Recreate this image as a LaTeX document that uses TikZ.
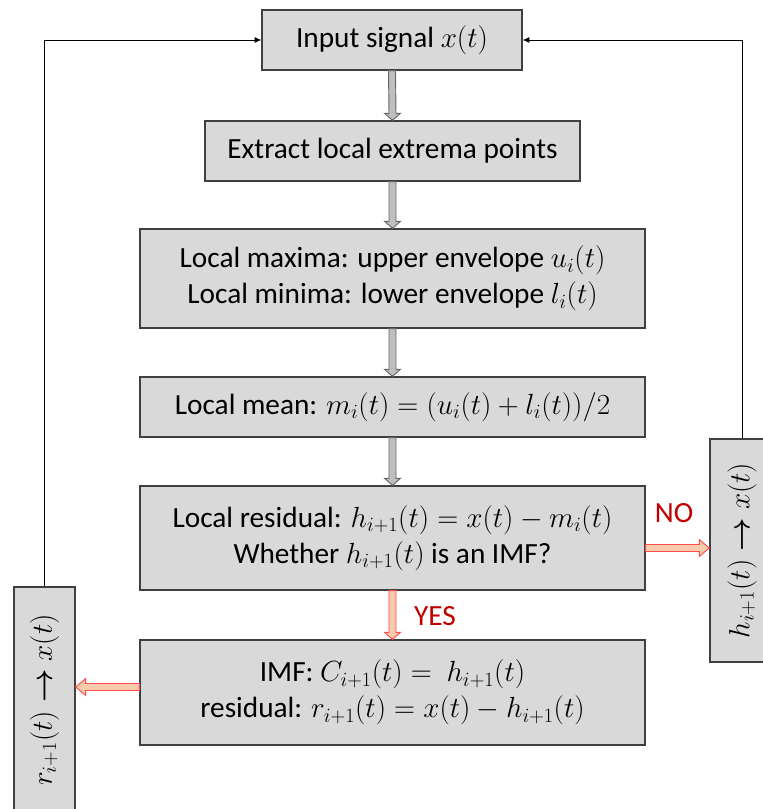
\documentclass[tikz,border=0pt]{standalone}
\usepackage[no-math]{fontspec}
\setmainfont{Carlito}
\usepackage{amsmath, amssymb}
\usetikzlibrary{calc, arrows.meta}

\definecolor{boxfill}{HTML}{D9D9D9}
\definecolor{boxline}{HTML}{404040}
\definecolor{grayarr}{HTML}{BFBFBF}
\definecolor{arrfill}{HTML}{F8CBAD}
\definecolor{arrline}{HTML}{FF4B4B}
\definecolor{labelred}{HTML}{C00000}

\tikzset{
  stepbox/.style={draw=boxline, fill=boxfill, line width=1.2pt, inner sep=0pt, align=center, font=\fontsize{25}{31}\selectfont},
  grayflow/.style={draw=boxline!80, fill=grayarr, line width=0.8pt},
  redflow/.style={draw=arrline, fill=arrfill, line width=0.8pt},
  backline/.style={draw=black, line width=0.8pt, -{Latex[length=0.2cm,width=0.18cm]}},
  answer/.style={text=labelred, font=\fontsize{25}{31}\selectfont},
}

% стрелка-блок вниз
\newcommand{\downblock}[3]{%
  \draw[#1] ($(#2.south)+(-3.5,0)$) -- ($(#3.north)+(-3.5,-7)$) -- ($(#3.north)+(-8,-7)$) -- (#3.north)
    -- ($(#3.north)+(8,-7)$) -- ($(#3.north)+(3.5,-7)$) -- ($(#2.south)+(3.5,0)$) -- cycle;}
% стрелка-блок вбок (1 вправо, -1 влево)
\newcommand{\sideblock}[4]{%
  \draw[#1] ($(#2)+(0,-3.5)$) -- ($(#3)+({-10*(#4)},-3.5)$) -- ($(#3)+({-10*(#4)},-8.5)$) -- (#3)
    -- ($(#3)+({-10*(#4)},8.5)$) -- ($(#3)+({-10*(#4)},3.5)$) -- ($(#2)+(0,3.5)$) -- cycle;}

\begin{document}
\begin{tikzpicture}[x=0.03cm, y=-0.03cm]
    \clip (0,0) rectangle (763,809);

    % Основные блоки
    \node[stepbox, minimum width=7.8cm, minimum height=1.8cm] (input) at (392,40) {Input signal $x(t)$};
    \node[stepbox, minimum width=11.25cm, minimum height=1.8cm] (extract) at (392.5,151) {Extract local extrema points};
    \node[stepbox, minimum width=15.15cm, minimum height=2.97cm] (envel) at (392.5,278.5)
        {Local maxima: upper envelope $u_i(t)$\\ Local minima: lower envelope $l_i(t)$};
    \node[stepbox, minimum width=15.15cm, minimum height=1.8cm] (mean) at (392.5,407)
        {Local mean: $m_i(t) = (u_i(t) + l_i(t))/2$};
    \node[stepbox, minimum width=15.15cm, minimum height=3.12cm] (resid) at (392.5,538)
        {Local residual: $h_{i+1}(t) = x(t) - m_i(t)$\\ Whether $h_{i+1}(t)$ is an IMF?};
    \node[stepbox, minimum width=15.15cm, minimum height=3.15cm] (imf) at (392.5,692.5)
        {IMF: $C_{i+1}(t) =\ h_{i+1}(t)$\\ residual: $r_{i+1}(t) = x(t) - h_{i+1}(t)$};

    % Боковые блоки (повёрнутые)
    \node[stepbox, rotate=90, minimum width=6.78cm, minimum height=1.83cm] (rnext) at (44.5,700) {$r_{i+1}(t) \boldsymbol{\rightarrow} x(t)$};
    \node[stepbox, rotate=90, minimum width=6.69cm, minimum height=1.92cm] (hnext) at (742,550.5) {$h_{i+1}(t) \boldsymbol{\rightarrow} x(t)$};

    % Серые стрелки
    \downblock{grayflow}{input}{extract}
    \downblock{grayflow}{extract}{envel}
    \downblock{grayflow}{envel}{mean}
    \downblock{grayflow}{mean}{resid}

    % Красные стрелки
    \downblock{redflow}{resid}{imf}
    \coordinate (nostart) at ($(resid.east)+(0,10)$);
    \coordinate (noend) at (hnext.north |- nostart);
    \sideblock{redflow}{nostart}{noend}{1}
    \coordinate (imfout) at ($(imf.west)+(0,-5.5)$);
    \coordinate (imfend) at (rnext.south |- imfout);
    \sideblock{redflow}{imfout}{imfend}{-1}

    % Подписи
    \node[answer] (nolabel) at (674,513) {NO};
    \node[answer] (yeslabel) at (435,616) {YES};

    % Обратные линии
    \draw[backline] (rnext.east) |- (input.west);
    \draw[backline] (hnext.east) |- (input.east);
\end{tikzpicture}
\end{document}
